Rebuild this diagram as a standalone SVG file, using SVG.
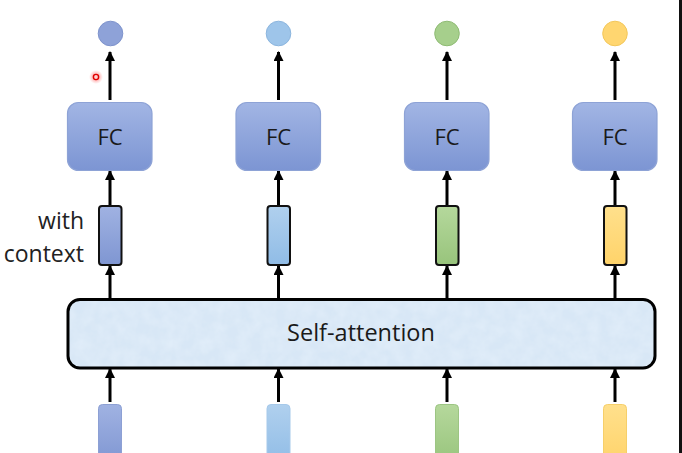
<svg xmlns="http://www.w3.org/2000/svg" width="682" height="453" viewBox="0 0 682 453">
  <defs>
    <linearGradient id="fcGrad" x1="0" y1="0" x2="0" y2="1">
      <stop offset="0" stop-color="#a2b5e4"/>
      <stop offset="1" stop-color="#7c95d3"/>
    </linearGradient>
    <linearGradient id="gBlue" x1="0" y1="0" x2="0" y2="1">
      <stop offset="0" stop-color="#a0b2e2"/>
      <stop offset="1" stop-color="#7f96d2"/>
    </linearGradient>
    <linearGradient id="gLight" x1="0" y1="0" x2="0" y2="1">
      <stop offset="0" stop-color="#b0d0ee"/>
      <stop offset="1" stop-color="#90bce6"/>
    </linearGradient>
    <linearGradient id="gGreen" x1="0" y1="0" x2="0" y2="1">
      <stop offset="0" stop-color="#b5d89c"/>
      <stop offset="1" stop-color="#98c47c"/>
    </linearGradient>
    <linearGradient id="gYellow" x1="0" y1="0" x2="0" y2="1">
      <stop offset="0" stop-color="#ffe08c"/>
      <stop offset="1" stop-color="#ffd36a"/>
    </linearGradient>
    <radialGradient id="laser">
      <stop offset="0" stop-color="#ff2020" stop-opacity="0.9"/>
      <stop offset="0.5" stop-color="#ff4040" stop-opacity="0.35"/>
      <stop offset="1" stop-color="#ff6060" stop-opacity="0"/>
    </radialGradient>
    <filter id="tex" x="0" y="0" width="1" height="1">
      <feTurbulence type="fractalNoise" baseFrequency="0.08" numOctaves="3" seed="4" result="n"/>
      <feColorMatrix in="n" type="matrix" values="0 0 0 0 0.80  0 0 0 0 0.88  0 0 0 0 0.97  0 0 0 0.9 -0.25" result="c"/>
      <feComposite in="c" in2="SourceGraphic" operator="in" result="t"/>
      <feMerge><feMergeNode in="SourceGraphic"/><feMergeNode in="t"/></feMerge>
    </filter>
    <marker id="ah" markerUnits="userSpaceOnUse" markerWidth="10" markerHeight="11" refX="9" refY="5" orient="auto">
      <path d="M0,0 L10,5 L0,10 Z" fill="#000"/>
    </marker>
  </defs>
  <style>
    .fc { fill: url(#fcGrad); stroke: #8ea3d6; stroke-width: 1.2; }
    .fct { font-family: "Open Sans", "Liberation Sans", sans-serif; font-size: 22px; fill: #1a1a1a; text-anchor: middle; }
    .lbl { font-family: "Open Sans", "Liberation Sans", sans-serif; font-size: 23px; fill: #222; text-anchor: end; }
    .ctx { stroke: #111; stroke-width: 2; }
    .arr { stroke: #000; stroke-width: 3; fill: none; marker-end: url(#ah); }
    .inp { stroke-width: 1; }
  </style>

  <rect x="0" y="0" width="682" height="453" fill="#ffffff"/>

  <g id="connectors">
    <line class="arr" x1="110" y1="100" x2="110" y2="52"/>
    <line class="arr" x1="278.5" y1="100" x2="278.5" y2="52"/>
    <line class="arr" x1="447" y1="100" x2="447" y2="52"/>
    <line class="arr" x1="615" y1="100" x2="615" y2="52"/>

    <line class="arr" x1="110" y1="205" x2="110" y2="171"/>
    <line class="arr" x1="278.5" y1="205" x2="278.5" y2="171"/>
    <line class="arr" x1="447" y1="205" x2="447" y2="171"/>
    <line class="arr" x1="615" y1="205" x2="615" y2="171"/>

    <line class="arr" x1="110" y1="298" x2="110" y2="266"/>
    <line class="arr" x1="278.5" y1="298" x2="278.5" y2="266"/>
    <line class="arr" x1="447" y1="298" x2="447" y2="266"/>
    <line class="arr" x1="615" y1="298" x2="615" y2="266"/>

    <line class="arr" x1="110" y1="402" x2="110" y2="369"/>
    <line class="arr" x1="278.5" y1="402" x2="278.5" y2="369"/>
    <line class="arr" x1="447" y1="402" x2="447" y2="369"/>
    <line class="arr" x1="615" y1="402" x2="615" y2="369"/>
  </g>

  <g id="out1"><circle cx="110.5" cy="33.5" r="12.3" fill="#8ea2d8" stroke="#7e93cc" stroke-width="1"/></g>
  <g id="out2"><circle cx="278.5" cy="33.5" r="12.3" fill="#9ec5ea" stroke="#8bb5de" stroke-width="1"/></g>
  <g id="out3"><circle cx="447" cy="33.5" r="12.3" fill="#a6cf8c" stroke="#8fbb74" stroke-width="1"/></g>
  <g id="out4"><circle cx="615" cy="33.5" r="12.3" fill="#ffd670" stroke="#f3c75a" stroke-width="1"/></g>

  <g id="fc1"><rect class="fc" x="67.5" y="102.5" width="84.5" height="68" rx="11"/><text class="fct" x="110" y="145">FC</text></g>
  <g id="fc2"><rect class="fc" x="236" y="102.5" width="84.5" height="68" rx="11"/><text class="fct" x="278.5" y="145">FC</text></g>
  <g id="fc3"><rect class="fc" x="404.5" y="102.5" width="84.5" height="68" rx="11"/><text class="fct" x="447" y="145">FC</text></g>
  <g id="fc4"><rect class="fc" x="572.5" y="102.5" width="84.5" height="68" rx="11"/><text class="fct" x="615" y="145">FC</text></g>

  <g id="ctx1"><rect class="ctx" x="99" y="206" width="22.5" height="59" rx="3" fill="url(#gBlue)"/></g>
  <g id="ctx2"><rect class="ctx" x="267.5" y="206" width="22.5" height="59" rx="3" fill="url(#gLight)"/></g>
  <g id="ctx3"><rect class="ctx" x="436" y="206" width="22.5" height="59" rx="3" fill="url(#gGreen)"/></g>
  <g id="ctx4"><rect class="ctx" x="604" y="206" width="22.5" height="59" rx="3" fill="url(#gYellow)"/></g>

  <g id="label">
    <text class="lbl" x="84" y="229">with</text>
    <text class="lbl" x="84" y="262">context</text>
  </g>

  <g id="selfattention">
    <rect x="68" y="299.5" width="587" height="68.5" rx="12" fill="#d8e7f6" filter="url(#tex)"/>
    <rect x="68" y="299.5" width="587" height="68.5" rx="12" fill="none" stroke="#000" stroke-width="3"/>
    <text x="361" y="341" font-family="'Open Sans', 'Liberation Sans', sans-serif" font-size="23.5" fill="#1a1a1a" text-anchor="middle">Self-attention</text>
  </g>

  <g id="in1"><rect class="inp" x="98.5" y="404.5" width="23" height="60" rx="4" fill="url(#gBlue)" stroke="#8da0d4"/></g>
  <g id="in2"><rect class="inp" x="267" y="404.5" width="23" height="60" rx="4" fill="url(#gLight)" stroke="#a6c9ea"/></g>
  <g id="in3"><rect class="inp" x="435.5" y="404.5" width="23" height="60" rx="4" fill="url(#gGreen)" stroke="#9cc583"/></g>
  <g id="in4"><rect class="inp" x="603.5" y="404.5" width="23" height="60" rx="4" fill="url(#gYellow)" stroke="#f6cf6a"/></g>

  <g id="pointer">
    <circle cx="96" cy="77" r="7" fill="url(#laser)"/>
    <circle cx="96" cy="77" r="2.6" fill="#ffd0d0" stroke="#e00000" stroke-width="1.4"/>
  </g>

  <rect x="679" y="0" width="3" height="453" fill="#111"/>
</svg>
